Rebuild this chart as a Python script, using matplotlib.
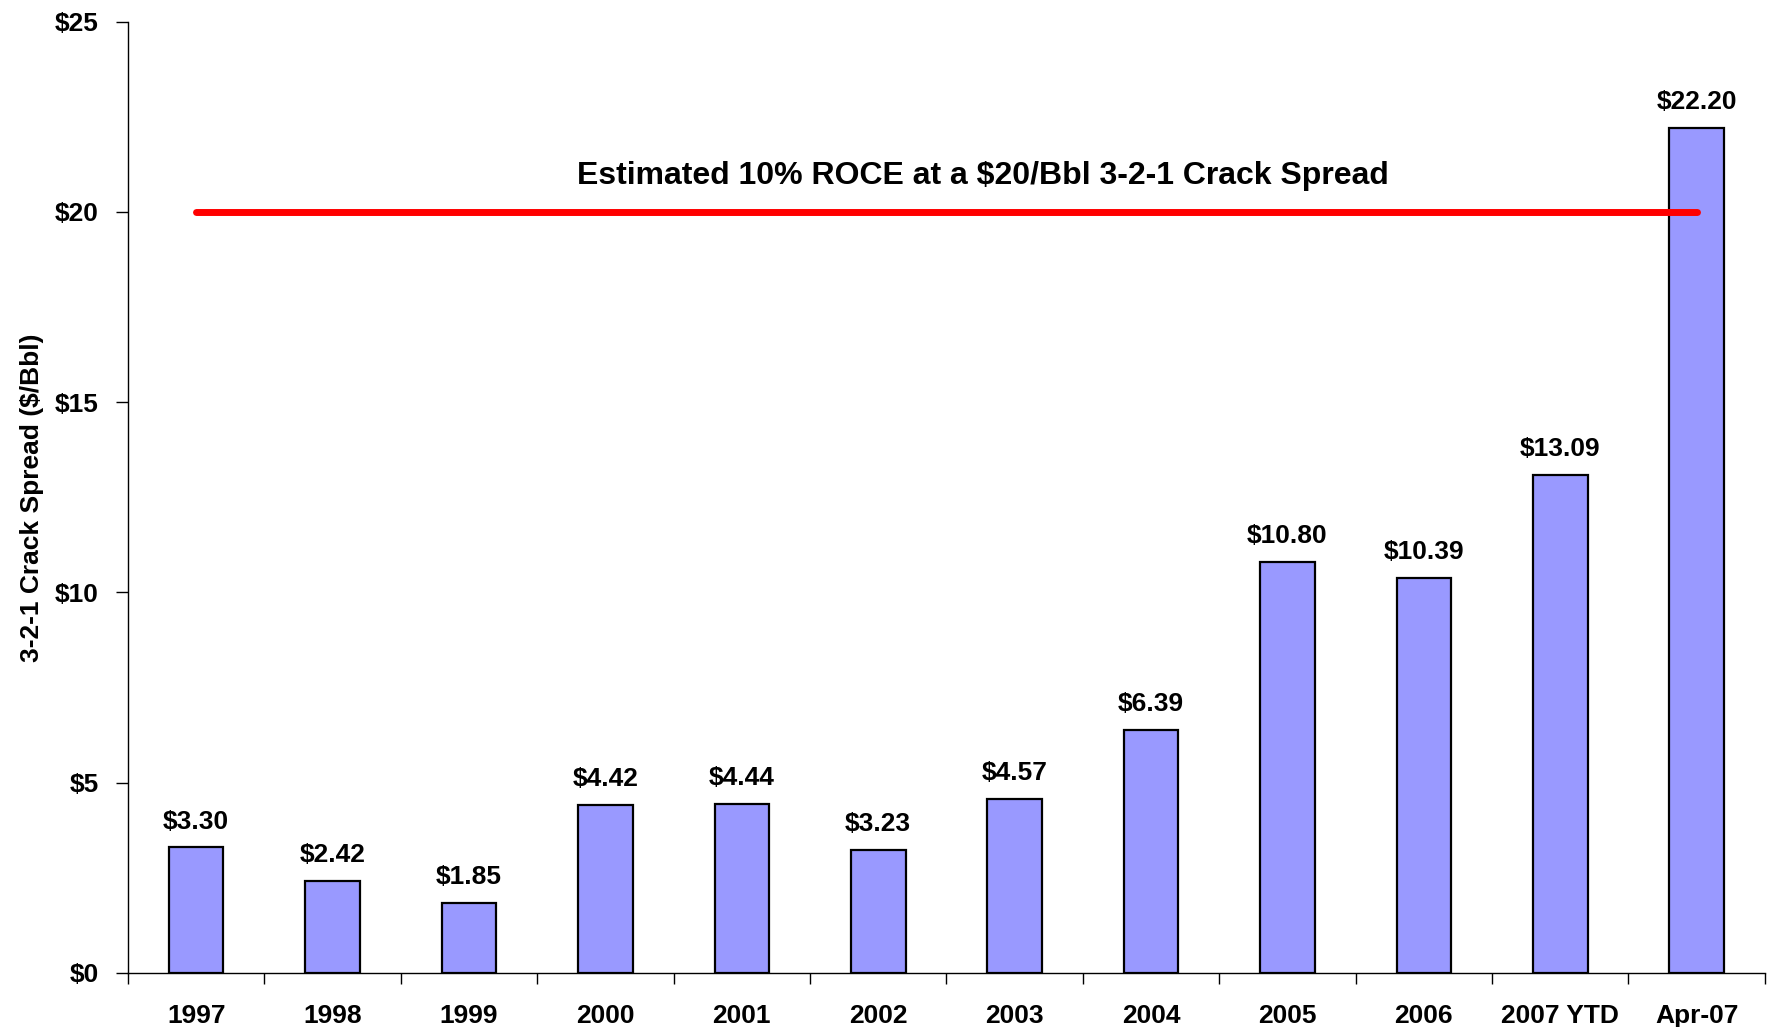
import numpy as np
import matplotlib.pyplot as plt

plt.rcParams['font.family'] = ['Liberation Sans', 'DejaVu Sans']
plt.rcParams['font.weight'] = 'bold'

categories = ['1997', '1998', '1999', '2000', '2001', '2002', '2003',
              '2004', '2005', '2006', '2007 YTD', 'Apr-07']
spreads = [3.30, 2.42, 1.85, 4.42, 4.44, 3.23, 4.57, 6.39, 10.80, 10.39, 13.09, 22.20]
roce_level = 20
roce_text = 'Estimated 10% ROCE at a $20/Bbl 3-2-1 Crack Spread'
yticks = [0, 5, 10, 15, 20, 25]

fig = plt.figure(figsize=(17.72, 10.27), dpi=100)
ax = fig.add_axes([0.0722, 0.0526, 0.9238, 0.9264])

x = np.arange(len(categories))
ax.bar(x, spreads, width=0.40, color='#9999FF', edgecolor='black', linewidth=1.6, zorder=2)

for xi, v in zip(x, spreads):
    ax.annotate('$%.2f' % v, xy=(xi, v), xytext=(0, 10), textcoords='offset points',
                ha='center', va='bottom', fontsize=19, fontweight='bold')

ax.plot([0, len(categories) - 1], [roce_level, roce_level], color='#FF0000',
        linewidth=5, solid_capstyle='round', zorder=3)
ax.text(5.77, 20.95, roce_text, ha='center', va='center', fontsize=23, fontweight='bold')

ax.set_xlim(-0.5, len(categories) - 0.5)
ax.set_ylim(0, 25)
ax.set_yticks(yticks)
ax.set_yticklabels(['$%d' % t for t in yticks])
ax.set_xticks(x)
ax.set_xticklabels(categories)
ax.set_xticks(np.arange(-0.5, len(categories)), minor=True)
ax.tick_params(axis='x', which='major', length=0, pad=22, labelsize=19)
ax.tick_params(axis='x', which='minor', length=8, width=1, direction='out')
ax.tick_params(axis='y', length=9, width=1, direction='out', pad=12, labelsize=19)

for s in ['top', 'right']:
    ax.spines[s].set_visible(False)
ax.spines['left'].set_linewidth(1)
ax.spines['bottom'].set_linewidth(1)

ax.set_ylabel('3-2-1 Crack Spread ($/Bbl)', fontsize=19, fontweight='bold', labelpad=8)

fig.savefig('out.png', dpi=100)
